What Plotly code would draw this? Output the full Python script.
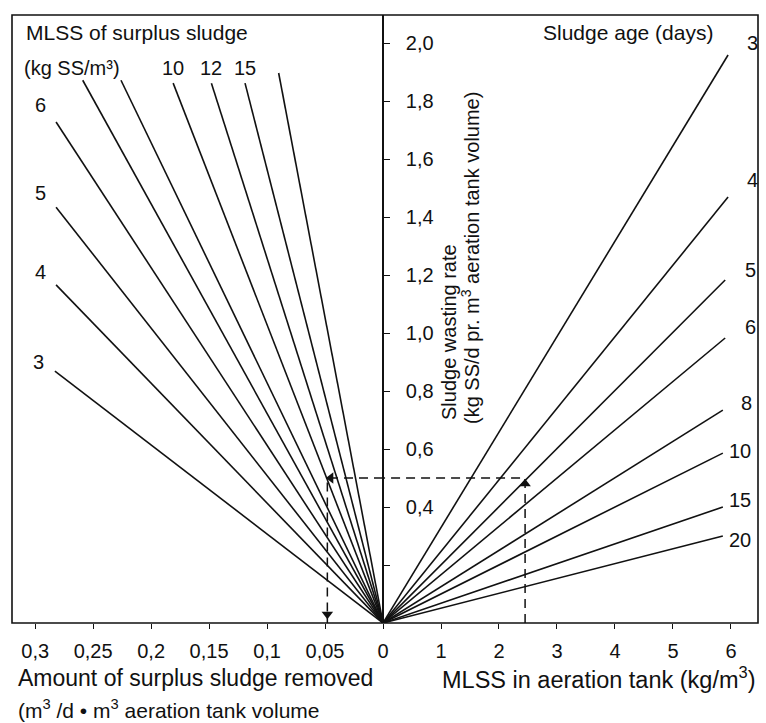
import plotly.graph_objects as go

# ---------------- data ----------------
# Left half: MLSS of surplus sludge lines (kg SS/m3); top-end points
surplus_mlss = [3, 4, 5, 6, 7, 8, 10, 12, 15, 20]
surplus_end_amount = [0.283, 0.282, 0.282, 0.282, 0.259, 0.226, 0.181, 0.148, 0.119, 0.090]
surplus_end_rate = [0.869, 1.166, 1.434, 1.728, 1.872, 1.872, 1.862, 1.862, 1.862, 1.897]
surplus_labels = ["3", "4", "5", "6", "", "", "10", "12", "15", ""]

# Right half: sludge age lines (days); right-end points
sludge_age = [3, 4, 5, 6, 8, 10, 15, 20]
age_end_mlss = [5.95, 5.95, 5.90, 5.90, 5.86, 5.86, 5.86, 5.86]
age_end_rate = [1.959, 1.469, 1.183, 0.983, 0.734, 0.586, 0.400, 0.300]
age_labels = ["3", "4", "5", "6", "8", "10", "15", "20"]

# Example (dashed) reading
ex_mlss = 2.45
ex_rate = 0.50
ex_amount = 0.048

# Axis ticks
amount_ticks = [0.3, 0.25, 0.2, 0.15, 0.1, 0.05]
amount_ticktext = ["0,3", "0,25", "0,2", "0,15", "0,1", "0,05"]
mlss_ticks = [0, 1, 2, 3, 4, 5, 6]
mlss_ticktext = ["0", "1", "2", "3", "4", "5", "6"]
rate_ticks = [0.4, 0.6, 0.8, 1.0, 1.2, 1.4, 1.6, 1.8, 2.0]
rate_ticktext = ["0,4", "0,6", "0,8", "1,0", "1,2", "1,4", "1,6", "1,8", "2,0"]
rate_minor_ticks = [0.2]

# ---------------- layout geometry ----------------
W, H = 766, 723
ML, MR, MT, MB = 12, 8, 15, 100
PW, PH = W - ML - MR, H - MT - MB
CENTER = (383 - ML) / PW  # paper fraction of centre axis

def px(x, y):
    return (x - ML) / PW, (H - MB - y) / PH

FONT = "Liberation Sans, Arial, Helvetica, sans-serif"
BLK = "#111111"
LW = 1.6

fig = go.Figure()

# left lines
for a, r in zip(surplus_end_amount, surplus_end_rate):
    fig.add_trace(go.Scatter(x=[0, a], y=[0, r], xaxis="x", yaxis="y", mode="lines",
                             line=dict(color=BLK, width=LW), hoverinfo="skip"))
# right lines
for m, r in zip(age_end_mlss, age_end_rate):
    fig.add_trace(go.Scatter(x=[0, m], y=[0, r], xaxis="x2", yaxis="y", mode="lines",
                             line=dict(color=BLK, width=LW), hoverinfo="skip"))

dash = dict(color=BLK, width=1.5, dash="9px,6px")
# dashed example path
fig.add_trace(go.Scatter(x=[ex_mlss, ex_mlss, 0], y=[0, ex_rate, ex_rate], xaxis="x2", yaxis="y",
                         mode="lines", line=dash, hoverinfo="skip"))
fig.add_trace(go.Scatter(x=[0, ex_amount, ex_amount], y=[ex_rate, ex_rate, 0], xaxis="x", yaxis="y",
                         mode="lines", line=dash, hoverinfo="skip"))
# arrowheads
fig.add_trace(go.Scatter(x=[ex_mlss], y=[ex_rate - 0.02], xaxis="x2", yaxis="y", mode="markers",
                         marker=dict(symbol="triangle-up", size=10, color=BLK), hoverinfo="skip"))
fig.add_trace(go.Scatter(x=[ex_amount - 0.003, ex_amount], y=[ex_rate, 0.03], xaxis="x", yaxis="y",
                         mode="markers",
                         marker=dict(symbol=["triangle-left", "triangle-down"], size=10, color=BLK),
                         hoverinfo="skip"))

ann = []
tf = dict(family=FONT, size=20, color=BLK)
# left line labels
left_shift = {"3": (-16, 9), "4": (-16, 13), "5": (-16, 14), "6": (-16, 17),
              "10": (0, 15), "12": (0, 15), "15": (0, 15)}
for a, r, lab in zip(surplus_end_amount, surplus_end_rate, surplus_labels):
    if not lab:
        continue
    dx, dy = left_shift[lab]
    ann.append(dict(x=a, y=r, xref="x", yref="y", text=lab, showarrow=False, font=tf,
                    xshift=dx, yshift=dy, yanchor="middle", xanchor="center"))
# right line labels
right_shift = {"3": (24, 12), "4": (24, 17), "5": (25, 10), "6": (25, 11),
               "8": (24, 7), "10": (17, 2), "15": (17, 7), "20": (17, -4)}
for m, r, lab in zip(age_end_mlss, age_end_rate, age_labels):
    dx, dy = right_shift[lab]
    ann.append(dict(x=m, y=r, xref="x2", yref="y", text=lab, showarrow=False, font=tf,
                    xshift=dx, yshift=dy, yanchor="middle", xanchor="center"))

def add_text(text, x, y, xanchor="left", yanchor="middle", angle=0, size=20):
    xp, yp = px(x, y)
    ann.append(dict(x=xp, y=yp, xref="paper", yref="paper", text=text, showarrow=False,
                    font=dict(family=FONT, size=size, color=BLK),
                    xanchor=xanchor, yanchor=yanchor, textangle=angle))

add_text("MLSS of surplus sludge", 24, 33, size=21)
add_text("(kg SS/m³)", 22, 68, size=20)
add_text("Sludge age (days)", 628, 33, xanchor="center", size=21)
add_text("Sludge wasting rate", 449, 422, xanchor="center", yanchor="bottom", angle=-90, size=20)
add_text("(kg SS/d pr. m<sup>3</sup> aeration tank volume)", 470, 426, xanchor="center",
         yanchor="bottom", angle=-90, size=20)
add_text("Amount of surplus sludge removed", 16, 678, size=23)
add_text("(m<sup>3</sup> /d • m<sup>3</sup> aeration tank volume", 16, 709, size=21)
add_text("MLSS in aeration tank (kg/m<sup>3</sup>)", 757, 678, xanchor="right", size=23.5)

axis_common = dict(showgrid=False, zeroline=False, ticks="outside", ticklen=5, tickwidth=1.3,
                   tickcolor=BLK, tickfont=tf, showline=False, automargin=False, fixedrange=True,
                   ticklabelstandoff=5)

fig.update_layout(
    template="none",
    width=W, height=H,
    margin=dict(l=ML, r=MR, t=MT, b=MB, pad=0),
    paper_bgcolor="white", plot_bgcolor="white",
    showlegend=False,
    xaxis=dict(domain=[0, CENTER], range=[0.32, 0], anchor="y",
               tickvals=amount_ticks, ticktext=amount_ticktext, **axis_common),
    xaxis2=dict(domain=[CENTER, 1], range=[0, 6.466], anchor="y",
                tickvals=mlss_ticks, ticktext=mlss_ticktext, **axis_common),
    yaxis=dict(domain=[0, 1], range=[0, 2.097], anchor="free", position=CENTER, side="right",
               showgrid=False, zeroline=False, showline=True, linecolor=BLK, linewidth=1.6,
               ticks="outside", ticklen=6, tickwidth=1.3, tickcolor=BLK, tickfont=tf,
               tickvals=rate_ticks, ticktext=rate_ticktext, ticklabelstandoff=12,
               minor=dict(tickmode="array", tickvals=rate_minor_ticks, ticks="outside",
                          ticklen=6, tickwidth=1.3, tickcolor=BLK),
               automargin=False, fixedrange=True),
    annotations=ann,
    shapes=[dict(type="rect", xref="paper", yref="paper", x0=0, y0=0, x1=1, y1=1,
                 line=dict(color=BLK, width=1.6), layer="above")],
)

fig.write_html("out.html")
